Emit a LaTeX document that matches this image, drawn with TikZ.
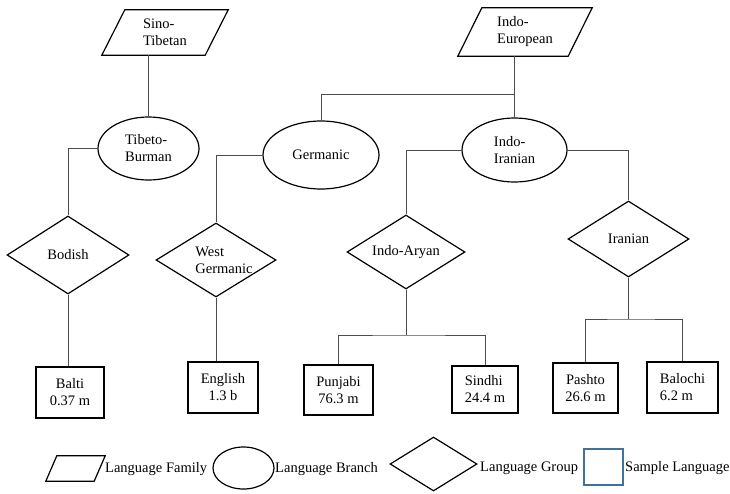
\documentclass[tikz,border=0pt]{standalone}
\usepackage{fontspec}
\setmainfont{Liberation Serif}
\newfontfamily\tnrfont{Liberation Serif}
\usetikzlibrary{shapes.geometric}
\definecolor{legblue}{HTML}{41719C}
\begin{document}
\begin{tikzpicture}[x=1pt,y=-1pt,
 every node/.style={font=\tnrfont\fontsize{14.5}{17}\selectfont, inner sep=0pt, align=left},
 shp/.style={draw=black, line width=1.2pt},
 fam/.style={rectangle},
 branch/.style={shp, ellipse},
 grp/.style={shp, diamond, aspect=1.6},
 langbox/.style={shp, rectangle, align=center},
 conn/.style={draw=black!70, line width=0.8pt},
 famline/.style={draw=black, line width=1.2pt, line join=miter}]
\useasboundingbox (0,0) rectangle (730,493);
% families (body node + slanted outline)
\node[fam, minimum width=103pt, minimum height=45pt] (st) at (165,32.5) {Sino-\\Tibetan};
\draw[famline] ([xshift=-11.5pt]st.south west) -- ([xshift=11.5pt]st.north west) -- ([xshift=11.5pt]st.north east) -- ([xshift=-11.5pt]st.south east) -- cycle;
\node[fam, minimum width=110pt, minimum height=48pt] (ie) at (525,32) {Indo-\\European};
\draw[famline] ([xshift=-12pt]ie.south west) -- ([xshift=12pt]ie.north west) -- ([xshift=12pt]ie.north east) -- ([xshift=-12pt]ie.south east) -- cycle;
% branches
\node[branch, minimum width=101pt, minimum height=63pt] (tb) at (148.5,148.5) {Tibeto-\\Burman};
\node[branch, minimum width=116pt, minimum height=68pt] (ger) at (321,155) {Germanic};
\node[branch, minimum width=105pt, minimum height=64pt] (ii) at (514.5,150) {Indo-\\Iranian};
% groups
\node[grp, minimum width=122pt, minimum height=78pt] (bod) at (68,255) {Bodish};
\node[grp, minimum width=120pt, minimum height=74pt] (wg) at (216,260) {};
\node (wgt) at ([xshift=8pt]wg.center) {West\\Germanic};
\node[grp, minimum width=118pt, minimum height=74pt] (ia) at (406,252) {Indo-Aryan};
\node[grp, minimum width=121pt, minimum height=76pt] (ir) at (628.5,239) {Iranian};
% languages
\node[langbox, minimum width=68pt, minimum height=51pt] (balti) at (70,392.5) {Balti\\0.37 m};
\node[langbox, minimum width=70pt, minimum height=51pt] (eng) at (223,387.5) {English\\1.3 b};
\node[langbox, minimum width=69pt, minimum height=50pt] (pun) at (338.5,390) {Punjabi\\76.3 m};
\node[langbox, align=left, minimum width=66pt, minimum height=47pt] (sin) at (485,389.5) {Sindhi\\24.4 m};
\node[langbox, minimum width=65pt, minimum height=50pt] (pas) at (585.5,388) {Pashto\\26.6 m};
\node[langbox, align=left, minimum width=71pt, minimum height=51pt] (bal) at (682.5,387.5) {Balochi\\6.2 m};
% connectors
\draw[conn] (tb.north |- st.south) -- (tb.north);
\draw[conn] (tb.west) -| (bod.north);
\draw[conn] (bod.south) -- (bod.south |- balti.north);
\draw[conn] (ger.west) -| (wg.north);
\draw[conn] (wg.south) -- (wg.south |- eng.north);
\draw[conn] (ii.north |- ie.south) -- (ii.north);
\coordinate (j1) at (ii.north |- 0,94);
\draw[conn] (j1) -| (ger.north);
\draw[conn] (ii.west) -| (ia.north);
\draw[conn] (ii.east) -| (ir.north);
\coordinate (b1) at (ia.south |- 0,335);
\draw[conn] (ia.south) -- (b1);
\draw[conn] (pun.north) |- (b1) -| (sin.north);
\coordinate (b2) at (ir.south |- 0,319);
\draw[conn] (ir.south) -- (b2);
\draw[conn] (pas.north) |- (b2) -| (bal.north);
% legend
\node[fam, minimum width=48pt, minimum height=25pt] (lf) at (75.5,468.5) {};
\draw[famline] ([xshift=-5.5pt]lf.south west) -- ([xshift=5.5pt]lf.north west) -- ([xshift=5.5pt]lf.north east) -- ([xshift=-5.5pt]lf.south east) -- cycle;
\node[anchor=west] (lft) at (105,469) {Language Family};
\node[branch, minimum width=61pt, minimum height=42pt] (lb) at (243.5,468) {};
\node[anchor=west] (lbt) at (275,469) {Language Branch};
\node[grp, aspect=1.6, minimum width=87pt, minimum height=54pt] (lg) at (433.5,464) {};
\node[anchor=west] (lgt) at (480,468) {Language Group};
\node[draw=legblue, line width=1.3pt, minimum width=39pt, minimum height=36pt] (ls) at (603.5,467) {};
\node[anchor=west] (lst) at (625,468) {Sample Language};
\end{tikzpicture}
\end{document}
